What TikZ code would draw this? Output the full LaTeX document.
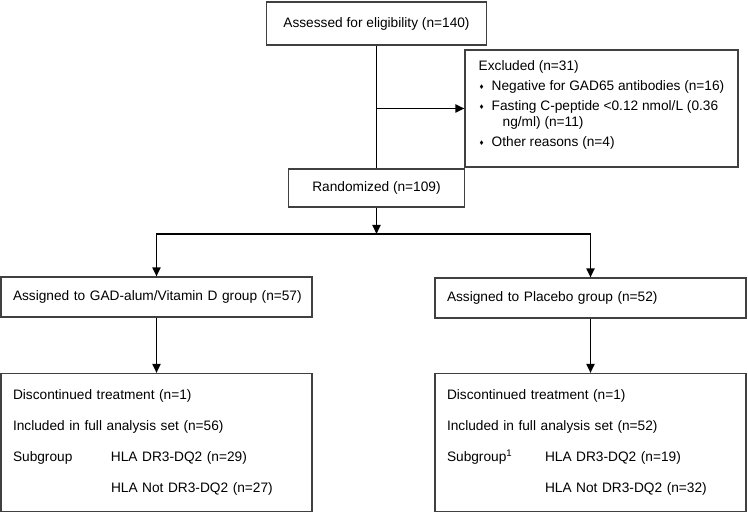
\documentclass[tikz,border=0pt]{standalone}
\usepackage{fontspec}
\setmainfont{Liberation Sans}
\usetikzlibrary{arrows.meta}
\newcommand{\dmd}{\makebox[13pt][l]{\hspace{1pt}\raisebox{1pt}{\fontsize{8}{8}\selectfont ♦}}}

\begin{document}
\begin{tikzpicture}[x=1pt,y=-1pt,>={Triangle[length=9pt,width=8pt]},
box/.style={draw=black!75,line width=1.1pt,inner sep=0pt,font=\fontsize{13.7}{16}\selectfont},
grp/.style={box,minimum height=40,text width=287,inner xsep=12pt,align=left},
res/.style={grp,minimum height=138,font=\fontsize{13.7}{31}\selectfont},
line/.style={line width=1.8pt}]
\useasboundingbox (0,0) rectangle (748,513);
\node[box,minimum width=220,minimum height=43] (assess) at (376.5,23.5) {Assessed for eligibility (n=140)};
\node[box,minimum width=273,minimum height=117,align=left] (excl) at (601.5,108.5)
{Excluded (n=31)\\[4pt]
\dmd Negative for GAD65 antibodies (n=16)\\[4pt]
\dmd Fasting C-peptide <0.12 nmol/L (0.36\\
\hspace*{24pt}ng/ml) (n=11)\\[4pt]
\dmd Other reasons (n=4)\rule[-10pt]{0pt}{10pt}};
\node[box,minimum width=176,minimum height=38] (rand) at (376.5,188) {Randomized (n=109)};
\coordinate (split) at (376.5,234);
\node[grp] (gad) at (156.5,297) {\mbox{Assigned to GAD-alum/Vitamin D group (n=57)}};
\node[grp] (plac) at (590.5,298) {Assigned to Placebo group (n=52)};
\node[res] (gadres) at (156.5,442.5)
{Discontinued treatment (n=1)\\
Included in full analysis set (n=56)\\
\makebox[98pt][l]{Subgroup}HLA DR3-DQ2 (n=29)\\
\hspace*{98pt}HLA Not DR3-DQ2 (n=27)};
\node[res] (placres) at (590.5,442.5)
{Discontinued treatment (n=1)\\
Included in full analysis set (n=52)\\
\makebox[98pt][l]{Subgroup\textsuperscript{1}}HLA DR3-DQ2 (n=19)\\
\hspace*{98pt}HLA Not DR3-DQ2 (n=32)};
\coordinate (branch) at (assess.south |- excl.west);
\draw[line] (assess) -- (rand);
\draw[line,->] (branch) -- (excl);
\draw[line,->] (rand) -- (split);
\draw[line,->] (split) -| (gad);
\draw[line,->] (split) -| (plac);
\draw[line,->] (gad) -- (gadres);
\draw[line,->] (plac) -- (placres);
\end{tikzpicture}
\end{document}
